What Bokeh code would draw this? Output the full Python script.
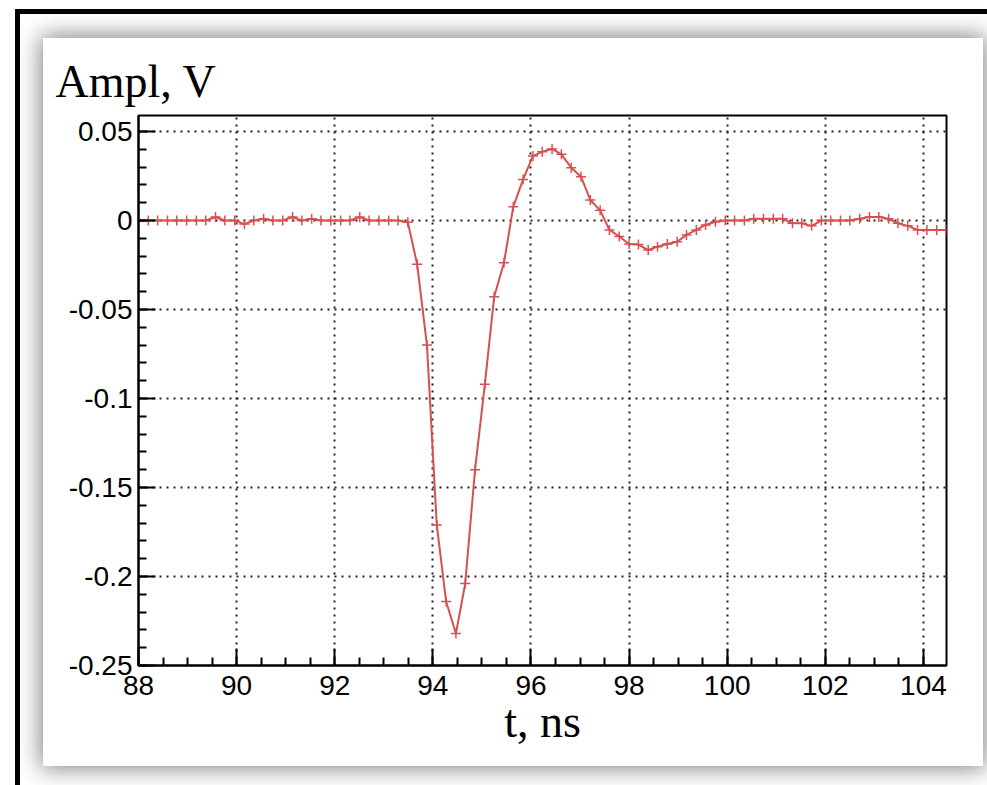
from bokeh.plotting import figure
from bokeh.models import FixedTicker, ColumnDataSource
from bokeh.embed import file_html
from bokeh.resources import INLINE
import numpy as np

# ---- data ----
t_ns = [88.00, 88.20, 88.39, 88.59, 88.78, 88.98, 89.18, 89.37, 89.57, 89.76,
        89.96, 90.16, 90.35, 90.55, 90.74, 90.94, 91.14, 91.33, 91.53, 91.72,
        91.92, 92.12, 92.31, 92.51, 92.70, 92.90, 93.10, 93.29, 93.49, 93.68,
        93.88, 94.08, 94.27, 94.47, 94.66, 94.86, 95.06, 95.25, 95.45, 95.64,
        95.84, 96.04, 96.23, 96.43, 96.62, 96.82, 97.02, 97.21, 97.41, 97.60,
        97.80, 98.00, 98.19, 98.39, 98.58, 98.78, 98.98, 99.17, 99.37, 99.56,
        99.76, 99.96, 100.15, 100.35, 100.54, 100.74, 100.94, 101.13, 101.33, 101.52,
        101.72, 101.92, 102.11, 102.31, 102.50, 102.70, 102.90, 103.09, 103.29, 103.48,
        103.68, 103.88, 104.07, 104.27, 104.46]
ampl_v = [0.0, 0.0, 0.0, 0.0, 0.0, 0.0, 0.0, 0.0, 0.002, 0.0,
          0.0, -0.002, 0.0, 0.001, 0.0, 0.0, 0.002, 0.0, 0.001, 0.0,
          0.0, 0.0, 0.0, 0.002, 0.0, 0.0, 0.0, 0.0, -0.001, -0.0246,
          -0.070, -0.171, -0.214, -0.232, -0.204, -0.140, -0.092, -0.0428, -0.0237, 0.0078,
          0.0231, 0.0362, 0.0387, 0.0402, 0.0372, 0.0297, 0.0246, 0.0115, 0.0057, -0.0053,
          -0.0090, -0.0132, -0.0135, -0.0166, -0.0147, -0.0132, -0.0119, -0.0081, -0.0053, -0.0025,
          -0.0007, 0.0, 0.0, 0.0, 0.001, 0.001, 0.001, 0.001, -0.0016, -0.0016,
          -0.003, 0.0, 0.0, 0.0, 0.0, 0.001, 0.002, 0.002, 0.001, -0.0016,
          -0.003, -0.0053, -0.0053, -0.0053, -0.0053]

x_ticks = [88, 90, 92, 94, 96, 98, 100, 102, 104]
y_ticks = [-0.25, -0.2, -0.15, -0.1, -0.05, 0, 0.05]
y_tick_labels = ["-0.25", "-0.2", "-0.15", "-0.1", "-0.05", "0", "0.05"]
y_title = "Ampl, V"
x_title = "t, ns"

RED = "#d65050"

src = ColumnDataSource(dict(t=t_ns, v=ampl_v))

p = figure(width=940, height=728, output_backend="svg", toolbar_location=None,
           x_range=(88, 104.47), y_range=(-0.25, 0.059),
           min_border_left=95, min_border_right=37, min_border_top=77, min_border_bottom=101,
           background_fill_color="white", border_fill_color="white")

p.line("t", "v", source=src, line_color=RED, line_width=2)
p.scatter("t", "v", source=src, marker="cross", size=10, line_color=RED, line_width=1.5)

# ROOT-style y-axis title above the frame, on the left
p.title.text = y_title
p.title.text_font = "Liberation Serif"
p.title.text_font_style = "normal"
p.title.text_font_size = "46px"
p.title.text_color = "black"
p.title.align = "left"
p.title.vertical_align = "middle"
p.title.offset = -83
p.title.standoff = 15

x_minor = [float(v) for v in np.round(np.arange(88, 104.5, 0.5), 2)]
y_minor = [float(v) for v in np.round(np.arange(-0.25, 0.059, 0.01), 3)]

p.xaxis.ticker = FixedTicker(ticks=x_ticks, minor_ticks=x_minor)
p.yaxis.ticker = FixedTicker(ticks=y_ticks, minor_ticks=y_minor)
p.yaxis.major_label_overrides = {k: s for k, s in zip(y_ticks, y_tick_labels)}

for ax in (p.xaxis[0], p.yaxis[0]):
    ax.axis_line_color = "black"
    ax.axis_line_width = 2
    ax.major_tick_line_color = "black"
    ax.major_tick_line_width = 2
    ax.minor_tick_line_color = "black"
    ax.minor_tick_line_width = 2
    ax.major_tick_in = 17
    ax.major_tick_out = 0
    ax.minor_tick_in = 8
    ax.minor_tick_out = 0
    ax.major_label_text_font = "Liberation Sans"
    ax.major_label_text_font_size = "28px"
    ax.major_label_text_color = "black"
p.yaxis.major_label_standoff = 6
p.xaxis.major_label_standoff = 10

p.xaxis.axis_label = x_title
p.xaxis.axis_label_text_font = "Liberation Serif"
p.xaxis.axis_label_text_font_style = "normal"
p.xaxis.axis_label_text_font_size = "46px"
p.xaxis.axis_label_text_color = "black"
p.xaxis.axis_label_standoff = -2

p.xgrid.ticker = FixedTicker(ticks=x_ticks)
p.ygrid.ticker = FixedTicker(ticks=y_ticks)
for g in (p.xgrid[0], p.ygrid[0]):
    g.grid_line_color = "#222222"
    g.grid_line_width = 2
    g.grid_line_dash = "2 5"

p.outline_line_color = "black"
p.outline_line_width = 2
p.outline_line_alpha = 1.0

# panel position and decorations (shadow, white mat, black outer border)
p.margin = (38, 0, 0, 43)
p.styles = {"box-shadow": ("0px 0px 22px 2px rgba(0,0,0,0.5), "
                           "17px 16px 0px 40px #ffffff, "
                           "17px 16px 0px 45px #000000")}

open("out.html", "w").write(file_html(p, INLINE))
